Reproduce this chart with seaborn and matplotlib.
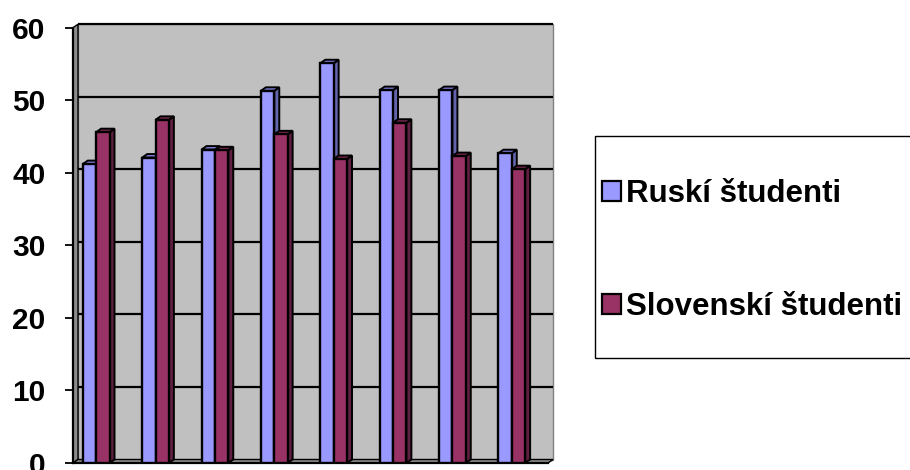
import matplotlib
matplotlib.use("Agg")
import numpy as np
import pandas as pd
import seaborn as sns
import matplotlib.pyplot as plt
from matplotlib.patches import Polygon, Rectangle, Patch
from matplotlib import colors as mcolors

# --- data -----------------------------------------------------------------
categories = ["1", "2", "3", "4", "5", "6", "7", "8"]
series = ["Ruskí študenti", "Slovenskí študenti"]
ruski = [41.2, 42.1, 43.2, 51.3, 55.1, 51.4, 51.4, 42.7]
slovenski = [45.6, 47.3, 43.1, 45.3, 41.9, 46.9, 42.3, 40.5]
y_ticks = [0, 10, 20, 30, 40, 50, 60]

# --- style ----------------------------------------------------------------
front_colors = ["#9999FF", "#993366"]
side_colors = ["#6464AC", "#5E1F40"]
top_colors = ["#7C7CD8", "#7A2952"]
wall_color = "#C0C0C0"
side_wall_color = "#8C8C8C"

df = pd.DataFrame({
    "kategoria": categories * 2,
    "hodnota": ruski + slovenski,
    "skupina": [series[0]] * len(categories) + [series[1]] * len(categories),
})

sns.set_theme(style="white")
plt.rcParams["font.family"] = ["Liberation Sans", "DejaVu Sans"]
plt.rcParams["text.color"] = "black"

W, H = 910, 470
fig = plt.figure(figsize=(W / 100, H / 100), dpi=100)
ax_l, ax_r, ax_b, ax_t = 73, 548, 463, 27.7
ax = fig.add_axes([ax_l / W, 1 - ax_b / H, (ax_r - ax_l) / W, (ax_b - ax_t) / H])
ax.set_facecolor("none")

sns.barplot(data=df, x="kategoria", y="hodnota", hue="skupina",
            palette=front_colors, width=0.45, gap=0, saturation=1,
            edgecolor="black", linewidth=1.7, legend=False, ax=ax)

x0, x1 = -0.39, len(categories) - 0.39
y0, y1 = 0, 60
ax.set_xlim(x0, x1)
ax.set_ylim(y0, y1)

# depth of the pseudo-3D look, converted from pixels to data units
dx = 5 * (x1 - x0) / (ax_r - ax_l)
dy = 3.5 * (y1 - y0) / (ax_b - ax_t)

# back wall, side wall and floor
ax.add_patch(Rectangle((x0 + dx, y0 + dy), x1 - x0, y1 - y0, fc=wall_color,
                       ec="#808080", lw=1, zorder=0.5, clip_on=False))
ax.hlines([v + dy for v in y_ticks[1:-1]], x0 + dx, x1 + dx, colors="black",
          lw=1.6, zorder=0.7, clip_on=False)
ax.hlines([y1 + dy], x0 + dx, x1 + dx, colors="black", lw=1.6, zorder=0.7,
          clip_on=False)
ax.add_patch(Polygon([(x0, y0), (x0, y1), (x0 + dx, y1 + dy), (x0 + dx, y0 + dy)],
                     closed=True, fc=side_wall_color, ec="black", lw=1,
                     zorder=0.9, clip_on=False))
ax.add_patch(Polygon([(x0, y0), (x1, y0), (x1 + dx, y0 + dy), (x0 + dx, y0 + dy)],
                     closed=True, fc=side_wall_color, ec="black", lw=1,
                     zorder=0.9, clip_on=False))

# side and top faces for every bar
bars = [p for p in ax.patches if isinstance(p, Rectangle) and p.get_height() > 0
        and p.get_width() < 1]
for p in bars:
    fc = mcolors.to_hex(p.get_facecolor())
    k = 0 if fc.lower() == front_colors[0].lower() else 1
    z = 3 + k
    p.set_zorder(z)
    bx0 = p.get_x()
    bx1 = bx0 + p.get_width()
    h = p.get_height()
    ax.add_patch(Polygon([(bx1, 0), (bx1, h), (bx1 + dx, h + dy), (bx1 + dx, dy)],
                         closed=True, fc=side_colors[k], ec="black", lw=1.4,
                         zorder=z - 0.05))
    ax.add_patch(Polygon([(bx0, h), (bx1, h), (bx1 + dx, h + dy), (bx0 + dx, h + dy)],
                         closed=True, fc=top_colors[k], ec="black", lw=1.4,
                         zorder=z - 0.05))

# axes
for s in ["top", "right"]:
    ax.spines[s].set_visible(False)
for s in ["left", "bottom"]:
    ax.spines[s].set_color("black")
    ax.spines[s].set_linewidth(1.6)
    ax.spines[s].set_zorder(1)
ax.set_xticks([])
ax.set_yticks(y_ticks)
ax.set_yticklabels([str(v) for v in y_ticks], fontweight="bold", fontsize=21.5,
                   color="black")
ax.tick_params(axis="y", left=True, length=5.8, width=1.3, color="black",
               pad=14, direction="out")
ax.set_xlabel("")
ax.set_ylabel("")

# legend
handles = [Patch(facecolor=c, edgecolor="black", linewidth=1.6) for c in front_colors]
fig.legend(handles, series, loc="upper left", bbox_to_anchor=(602 / W, 1 - 179 / H),
           frameon=False, labelcolor="black",
           prop=dict(family=["Liberation Sans"], weight="bold", size=22.5),
           handlelength=0.62, handleheight=0.62, handletextpad=0.15,
           labelspacing=2.66, borderpad=0, borderaxespad=0)
fig.add_artist(Rectangle((595 / W, 1 - 358 / H), 330 / W, 222 / H,
                         transform=fig.transFigure, fill=False, ec="black", lw=1))

fig.savefig("out.png", dpi=100)
